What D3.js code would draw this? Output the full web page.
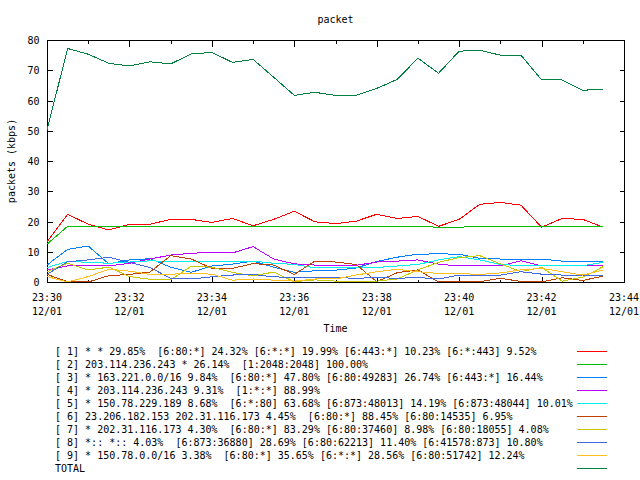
<!DOCTYPE html>
<meta charset="utf-8">

<style>
 body { margin: 0; background: #fff; }
 text { font-family: "DejaVu Sans Mono", monospace; font-size: 10px; fill: #000; white-space: pre; }
 .frame, .tick line { shape-rendering: crispEdges; }
</style>

<body>
	<svg></svg>
	<script src="https://cdn.jsdelivr.net/npm/d3@7"></script>
	<script>

		// sample times (every 30 s)
		var times = ["23:30:00","23:30:30","23:31:00","23:31:30","23:32:00","23:32:30","23:33:00",
		             "23:33:30","23:34:00","23:34:30","23:35:00","23:35:30","23:36:00","23:36:30",
		             "23:37:00","23:37:30","23:38:00","23:38:30","23:39:00","23:39:30","23:40:00",
		             "23:40:30","23:41:00","23:41:30","23:42:00","23:42:30","23:43:00","23:43:30"];

		// series values (kbps)
		var s1 = [13.3,22.4,19.1,17.2,19.1,19.1,20.7,20.7,19.7,21.0,18.6,20.7,23.4,19.9,
		          19.3,20.1,22.4,21.0,21.7,18.4,20.7,25.7,26.3,25.4,18.1,21.0,20.7,18.1];
		var s2 = [12.5,18.4,18.4,18.4,18.4,18.4,18.4,18.4,18.4,18.4,18.4,18.4,18.4,18.4,
		          18.4,18.4,18.4,18.4,18.4,18.1,18.1,18.4,18.4,18.4,18.4,18.4,18.4,18.4];
		var s3 = [5.6,10.8,11.9,6.0,7.3,7.7,4.9,3.2,5.3,5.9,6.9,4.9,3.2,3.7,
		          3.9,4.6,6.8,8.2,9.2,9.3,9.2,7.8,7.6,7.6,7.6,6.9,6.9,6.9];
		var s4 = [4.0,5.3,5.3,5.3,6.2,7.6,8.9,9.5,9.8,9.6,11.7,7.6,6.0,5.6,
		          5.5,5.5,6.6,6.9,7.3,5.9,5.3,5.3,5.3,7.0,5.3,5.3,5.3,5.6];
		var s5 = [4.8,6.8,6.5,6.2,6.6,7.0,6.8,6.9,6.9,6.9,6.9,6.2,5.8,4.7,
		          4.8,4.8,4.8,5.3,5.8,7.3,8.4,7.3,5.8,5.4,5.4,5.4,5.4,6.5];
		var s6 = [2.5,0.1,0.0,2.1,2.5,3.3,8.7,7.6,4.5,4.5,6.1,5.6,2.5,6.9,
		          6.6,5.8,0.1,3.1,4.0,0.0,0.1,0.1,1.2,0.2,0.0,1.4,0.5,2.0];
		var s7 = [3.4,6.2,4.0,4.9,1.8,0.9,0.7,5.2,4.9,3.2,2.0,3.3,0.1,0.7,
		          0.3,0.1,0.3,1.0,4.0,6.5,8.1,8.7,6.0,3.4,4.8,0.3,1.6,5.1];
		var s8 = [2.5,6.7,7.3,8.2,6.5,4.8,1.2,1.0,1.7,2.3,2.5,1.7,1.5,1.5,
		          1.5,1.2,1.5,1.2,1.5,1.0,2.3,2.3,2.3,3.4,2.6,2.3,2.3,2.3];
		var s9 = [1.8,0.0,1.8,4.2,3.6,2.5,2.6,2.8,2.6,0.6,1.0,0.6,0.3,1.0,
		          1.0,2.3,3.4,4.2,3.4,2.8,2.8,2.5,3.0,4.0,4.5,3.4,2.3,4.0];
		var total = [50.2,77.2,75.3,72.3,71.4,72.8,72.1,75.4,75.9,72.6,73.6,67.7,61.7,62.7,
		             61.7,61.7,64.0,67.0,74.0,69.0,76.3,76.6,75.0,75.0,66.8,66.8,63.4,63.7];

		var seriesValues = [s1, s2, s3, s4, s5, s6, s7, s8, s9, total];
		var seriesColors = ["#ff0000","#00c000","#0080ff","#c000ff","#00eeee",
		                    "#c04000","#c8c800","#4169e1","#ffc020","#008040"];
		var seriesNames = [
			"[ 1] * * 29.85%  [6:80:*] 24.32% [6:*:*] 19.99% [6:443:*] 10.23% [6:*:443] 9.52%",
			"[ 2] 203.114.236.243 * 26.14%  [1:2048:2048] 100.00%",
			"[ 3] * 163.221.0.0/16 9.84%  [6:80:*] 47.80% [6:80:49283] 26.74% [6:443:*] 16.44%",
			"[ 4] * 203.114.236.243 9.31%  [1:*:*] 88.99%",
			"[ 5] * 150.78.229.189 8.68%  [6:*:80] 63.68% [6:873:48013] 14.19% [6:873:48044] 10.01%",
			"[ 6] 23.206.182.153 202.31.116.173 4.45%  [6:80:*] 88.45% [6:80:14535] 6.95%",
			"[ 7] * 202.31.116.173 4.30%  [6:80:*] 83.29% [6:80:37460] 8.98% [6:80:18055] 4.08%",
			"[ 8] *:: *:: 4.03%  [6:873:36880] 28.69% [6:80:62213] 11.40% [6:41578:873] 10.80%",
			"[ 9] * 150.78.0.0/16 3.38%  [6:80:*] 35.65% [6:*:*] 28.56% [6:80:51742] 12.24%",
			"TOTAL"];

		var yTicks = [0, 10, 20, 30, 40, 50, 60, 70, 80];
		var xLabelTimes = ["23:30","23:32","23:34","23:36","23:38","23:40","23:42","23:44"];
		var xDateLabel = "12/01";

		// setting up svg
		var width = 640, height = 480;
		var plotL = 47, plotR = 624, plotT = 40, plotB = 282;
		var svg = d3.select("svg")
				.attr("width", width)
				.attr("height", height);

		var parseT = d3.timeParse("%H:%M:%S");
		var parseHM = d3.timeParse("%H:%M");
		var dates = times.map(parseT);

		var x = d3.scaleTime()
				.domain([parseHM("23:30"), parseHM("23:44")])
				.range([plotL, plotR]);
		var y = d3.scaleLinear()
				.domain([0, 80])
				.range([plotB, plotT]);

		// AXES-----------------------------------------------------------

		var minuteTicks = d3.timeMinute.range(parseHM("23:30"), d3.timeMinute.offset(parseHM("23:44"), 1));
		var labelTicks = xLabelTimes.map(parseHM);

		function isMajor(d)
		{
			return labelTicks.some(function(t){ return +t == +d; });
		}

		// bottom and top x ticks, pointing inward
		function drawXTicks(yPos, dir)
		{
			var g = svg.append("g").attr("class", "tick");
			g.selectAll("line")
			 .data(minuteTicks)
			 .enter()
			 .append("line")
			 .attr("x1", function(d){ return Math.round(x(d)) + 0.5; })
			 .attr("x2", function(d){ return Math.round(x(d)) + 0.5; })
			 .attr("y1", yPos)
			 .attr("y2", function(d){ return yPos + dir * (isMajor(d) ? 6 : 3); })
			 .attr("stroke", "#000");
		}
		drawXTicks(plotB + 0.5, -1);
		drawXTicks(plotT + 0.5, 1);

		// y ticks left and right
		var yAxisL = d3.axisLeft(y).tickValues(yTicks).tickSizeInner(-5).tickSizeOuter(0).tickPadding(8);
		var yAxisR = d3.axisRight(y).tickValues(yTicks).tickSizeInner(-5).tickSizeOuter(0).tickFormat("");

		var gl = svg.append("g").attr("transform", "translate(" + (plotL + 0.5) + ",0)").call(yAxisL);
		var gr = svg.append("g").attr("transform", "translate(" + (plotR + 0.5) + ",0)").call(yAxisR);
		[gl, gr].forEach(function(g){
			g.select(".domain").remove();
			g.selectAll("line").attr("stroke", "#000");
			g.attr("font-family", null).attr("font-size", null);
		});
		gl.selectAll("text").attr("dy", "0.35em");

		// x labels (two lines)
		var xl = svg.append("g").selectAll("g")
				.data(labelTicks)
				.enter()
				.append("g");
		xl.append("text")
		  .attr("x", function(d){ return x(d); })
		  .attr("y", 301)
		  .attr("text-anchor", "middle")
		  .text(d3.timeFormat("%H:%M"));
		xl.append("text")
		  .attr("x", function(d){ return x(d); })
		  .attr("y", 315)
		  .attr("text-anchor", "middle")
		  .text(xDateLabel);

		// frame
		svg.append("rect")
		   .attr("class", "frame")
		   .attr("x", plotL + 0.5)
		   .attr("y", plotT + 0.5)
		   .attr("width", plotR - plotL)
		   .attr("height", plotB - plotT)
		   .attr("fill", "none")
		   .attr("stroke", "#000");

		// titles
		svg.append("text").attr("x", (plotL + plotR) / 2).attr("y", 23)
		   .attr("text-anchor", "middle").text("packet");
		svg.append("text").attr("x", (plotL + plotR) / 2).attr("y", 332)
		   .attr("text-anchor", "middle").text("Time");
		svg.append("text")
		   .attr("transform", "translate(15," + ((plotT + plotB) / 2) + ") rotate(-90)")
		   .attr("text-anchor", "middle").text("packets (kbps)");

		// LINES----------------------------------------------------------

		var line = d3.line()
				.x(function(d, i){ return x(dates[i]); })
				.y(function(d){ return y(d); });

		svg.append("g")
		   .selectAll("path")
		   .data(seriesValues)
		   .enter()
		   .append("path")
		   .attr("d", line)
		   .attr("fill", "none")
		   .attr("stroke-width", 1)
		   .attr("shape-rendering", "crispEdges")
		   .attr("stroke", function(d, i){ return seriesColors[i]; });

		// LEGEND---------------------------------------------------------

		var leg = svg.append("g").selectAll("g")
				.data(seriesNames)
				.enter()
				.append("g")
				.attr("transform", function(d, i){ return "translate(0," + (351.5 + i * 13) + ")"; });
		leg.append("text")
		   .attr("x", 55)
		   .attr("y", 3.5)
		   .text(function(d){ return d; });
		leg.append("line")
		   .attr("x1", 577)
		   .attr("x2", 607)
		   .attr("shape-rendering", "crispEdges")
		   .attr("stroke", function(d, i){ return seriesColors[i]; });

	</script>
</body>
</html>
